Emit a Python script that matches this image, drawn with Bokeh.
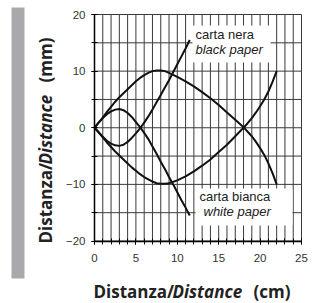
import math
from bokeh.plotting import figure
from bokeh.models import Range1d, FixedTicker, BoxAnnotation, Label, LinearAxis
from bokeh.embed import file_html
from bokeh.resources import INLINE

# ---- data ----
x_short = [0, 0.5, 1, 1.5, 2, 2.5, 3, 3.5, 4, 4.5, 5, 5.5, 6, 6.5, 7, 7.5, 8, 8.5, 9, 9.5, 10, 10.5, 11, 11.5]
black_a = [0, -0.8, -1.6, -2.3, -2.8, -3.1, -3.2, -3.0, -2.5, -1.8, -1.0, -0.1, 0.9, 2.0, 3.2, 4.5, 5.8, 7.1, 8.4, 9.8, 11.2, 12.6, 14.0, 15.5]
white_c = [0, 0.9, 1.7, 2.4, 2.9, 3.2, 3.3, 3.1, 2.6, 1.9, 1.0, 0.1, -0.9, -2.0, -3.3, -4.6, -6.0, -7.3, -8.7, -10.0, -11.4, -12.8, -14.1, -15.5]

x_long = [0, 0.5, 1, 1.5, 2, 2.5, 3, 3.5, 4, 4.5, 5, 5.5, 6, 6.5, 7, 7.5, 8, 8.5, 9, 10, 11, 12, 13, 14, 15, 16, 17, 18, 18.5, 19, 19.5, 20, 20.5, 21, 21.5, 22]
peak_b = [0, 0.9, 1.8, 2.8, 3.7, 4.6, 5.4, 6.1, 6.8, 7.5, 8.2, 8.8, 9.3, 9.7, 10.0, 10.1, 10.1, 10.0, 9.7, 9.0, 8.2, 7.3, 6.3, 5.2, 4.0, 2.7, 1.4, 0.1, -0.7, -1.5, -2.5, -3.6, -4.8, -6.3, -8.0, -10.0]
trough_d = [0, -0.8, -1.7, -2.6, -3.4, -4.2, -4.9, -5.6, -6.3, -7.0, -7.6, -8.2, -8.7, -9.1, -9.5, -9.8, -9.9, -9.9, -9.8, -9.3, -8.6, -7.7, -6.7, -5.6, -4.3, -3.0, -1.5, 0.0, 0.8, 1.7, 2.7, 3.8, 5.0, 6.4, 8.1, 10.0]

x_ticks = [0, 5, 10, 15, 20, 25]
x_minor = list(range(0, 26))
y_ticks = [-20, -10, 0, 10, 20]
y_minor = [-20, -15, -10, -5, 0, 5, 10, 15, 20]
x_lim = (0, 25)
y_lim = (-20, 20)

label_black = ["carta nera", "black paper"]
label_white = ["carta bianca", "white paper"]
x_title = [("Distanza/", "bold"), ("Distance", "bold italic"), ("(cm)", "bold")]
y_title = [("Distanza/", "bold"), ("Distance", "bold italic"), ("(mm)", "bold")]

# ---- page geometry (pixels) ----
W, H = 314, 303
FL, FR, FT, FB = 94, 301, 14, 240.5   # plot-area edges
SX = (FR - FL) / (x_lim[1] - x_lim[0])
SY = (FB - FT) / (y_lim[1] - y_lim[0])

def px2x(px):
    return x_lim[0] + (px - FL) / SX

def px2y(py):
    return y_lim[1] - (py - FT) / SY

p = figure(width=W, height=H, x_range=Range1d(px2x(0), px2x(W)),
           y_range=Range1d(px2y(H), px2y(0)),
           x_axis_location=None, y_axis_location=None,
           output_backend="svg", toolbar_location=None,
           min_border_left=0, min_border_right=0, min_border_top=0, min_border_bottom=0)
p.grid.visible = False
p.outline_line_color = None
p.background_fill_color = "white"

# grey side bar
p.add_layout(BoxAnnotation(left=px2x(11), right=px2x(24), top=px2y(7), bottom=px2y(278),
                           fill_color="#a7a9ac", fill_alpha=1, line_color=None, level="underlay"))

# grid (every cm vertically, every 5 mm horizontally)
p.segment(x0=x_minor, y0=[y_lim[0]] * len(x_minor), x1=x_minor, y1=[y_lim[1]] * len(x_minor),
          line_color="#3a3a3a", line_width=1)
p.segment(x0=[x_lim[0]] * len(y_minor), y0=y_minor, x1=[x_lim[1]] * len(y_minor), y1=y_minor,
          line_color="#3a3a3a", line_width=1)

# axes
xax = LinearAxis(fixed_location=y_lim[0], bounds=x_lim,
                 ticker=FixedTicker(ticks=x_ticks, minor_ticks=x_minor))
yax = LinearAxis(fixed_location=x_lim[0], bounds=y_lim,
                 ticker=FixedTicker(ticks=y_ticks, minor_ticks=y_minor))
for ax in (xax, yax):
    ax.axis_line_color = "black"
    ax.axis_line_width = 1.5
    ax.major_tick_line_color = "black"
    ax.minor_tick_line_color = "black"
    ax.major_tick_in = 3
    ax.major_tick_out = 3
    ax.minor_tick_in = 3
    ax.minor_tick_out = 3
    ax.major_label_text_font = "Liberation Sans"
    ax.major_label_text_font_size = "11.5px"
    ax.major_label_text_color = "#333333"
xax.major_label_standoff = 10
yax.major_label_standoff = 6
p.add_layout(xax, "below")
p.add_layout(yax, "left")

# curves
for xs, ys in ((x_short, black_a), (x_short, white_c), (x_long, peak_b), (x_long, trough_d)):
    p.line(xs, ys, line_width=2, line_color="#111111")

# label boxes
p.add_layout(BoxAnnotation(left=px2x(192), right=px2x(270), top=px2y(25), bottom=px2y(62),
                           fill_color="white", fill_alpha=1, line_color=None))
p.add_layout(BoxAnnotation(left=px2x(195), right=px2x(292), top=px2y(188), bottom=px2y(225),
                           fill_color="white", fill_alpha=1, line_color=None))

def note(px, py, txt, style="normal"):
    p.add_layout(Label(x=px2x(px), y=px2y(py), text=txt, text_font="Liberation Sans",
                       text_font_size="13px", text_color="#222222",
                       text_font_style=style, text_align="left",
                       text_baseline="alphabetic"))

note(195, 34, label_black[0])
note(195, 49, label_black[1], "italic")
note(199, 196, label_white[0])
note(203, 211, label_white[1], "italic")

# axis titles, in pieces so that "Distance" can be italic
AX_FONT = "Open Sans"
AX_SIZE = "17px"
x_starts = [93, 172, 253]
for (txt, style), sx in zip(x_title, x_starts):
    p.add_layout(Label(x=px2x(sx), y=px2y(291), text=txt, text_font=AX_FONT,
                       text_font_size=AX_SIZE, text_font_style=style, text_color="#222222",
                       text_align="left", text_baseline="alphabetic"))
y_starts = [243, 164, 82]
for (txt, style), sy in zip(y_title, y_starts):
    p.add_layout(Label(x=px2x(45), y=px2y(sy), angle=math.pi / 2, text=txt,
                       text_font=AX_FONT, text_font_size=AX_SIZE, text_font_style=style,
                       text_color="#222222", text_align="left", text_baseline="alphabetic"))

open("out.html", "w").write(file_html(p, INLINE))
